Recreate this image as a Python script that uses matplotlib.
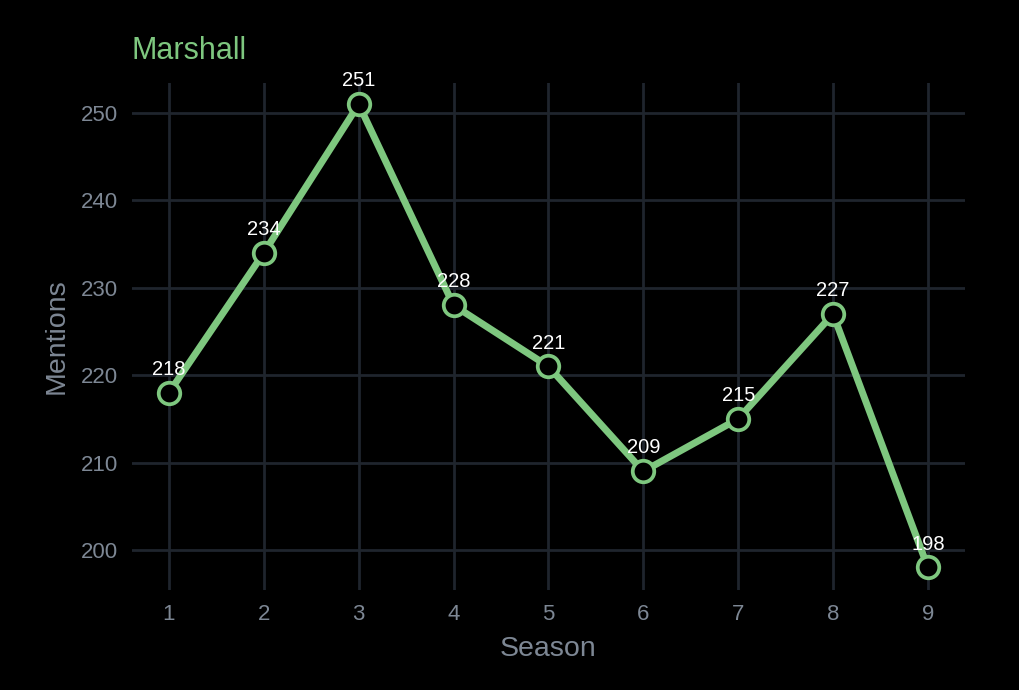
import matplotlib
matplotlib.use('Agg')
import matplotlib.pyplot as plt

seasons = [1, 2, 3, 4, 5, 6, 7, 8, 9]
mentions = [218, 234, 251, 228, 221, 209, 215, 227, 198]

green = "#7ec77f"
grid_col = "#1f252d"
tick_col = "#7d8794"

plt.rcParams['font.family'] = ['Liberation Sans', 'DejaVu Sans']

fig = plt.figure(figsize=(10.2, 6.9), dpi=100, facecolor="black")
ax = fig.add_axes([0.1294, 0.1449, 0.8166, 0.7348], facecolor="black")

ax.plot(seasons, mentions, color=green, linewidth=5, marker='o', markersize=15.5,
        markerfacecolor="black", markeredgecolor=green, markeredgewidth=2.7, zorder=3)

for s, m in zip(seasons, mentions):
    ax.annotate(str(m), (s, m), xytext=(0, 10), textcoords="offset points",
                ha="center", va="bottom", color="white", fontsize=14.5, zorder=4)

ax.set_xlim(0.61, 9.39)
ax.set_ylim(195.42, 253.43)
ax.set_xticks(seasons)
ax.set_yticks([200, 210, 220, 230, 240, 250])
ax.grid(True, color=grid_col, linewidth=2)
ax.set_axisbelow(True)
for sp in ax.spines.values():
    sp.set_visible(False)
ax.tick_params(length=0, colors=tick_col, labelsize=16, pad=10)

ax.set_xlabel("Season", color=tick_col, fontsize=20.5, labelpad=8)
ax.set_ylabel("Mentions", color=tick_col, fontsize=20.5, labelpad=8)
ax.set_title("Marshall", loc="left", color=green, fontsize=22, pad=17)

plt.savefig("out.png", dpi=100, facecolor="black")
